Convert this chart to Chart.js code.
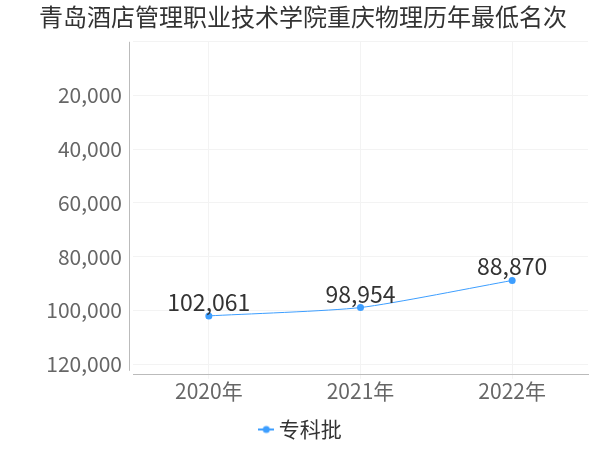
<!DOCTYPE html>
<html>
<head>
<meta charset="utf-8">
<script src="https://cdn.jsdelivr.net/npm/chart.js@4/dist/chart.umd.min.js"></script>
<style>
  html, body { margin: 0; padding: 0; background: #fff; }
  #wrap { width: 600px; height: 450px; }
</style>
</head>
<body>
<div id="wrap"><canvas id="rankChart"></canvas></div>
<script>
// data
const years = ['2020年', '2021年', '2022年'];
const minRank = [102061, 98954, 88870];
const seriesName = '专科批';
const yTicks = [20000, 40000, 60000, 80000, 100000, 120000];

const FONT = '"Noto Sans CJK SC", "Noto Sans", sans-serif';
const BLUE = '#3d9eff';

// legend marker: short line with a dot
const marker = document.createElement('canvas');
marker.width = 16; marker.height = 10;
(function () {
  const c = marker.getContext('2d');
  c.strokeStyle = BLUE; c.lineWidth = 2;
  c.beginPath(); c.moveTo(0, 5); c.lineTo(16, 5); c.stroke();
  c.fillStyle = BLUE;
  c.beginPath(); c.arc(8, 5, 3.5, 0, Math.PI * 2); c.fill();
})();

// value labels above each point
const valueLabels = {
  id: 'valueLabels',
  afterDatasetsDraw(chart) {
    const ctx = chart.ctx;
    const meta = chart.getDatasetMeta(0);
    ctx.save();
    ctx.font = '23px ' + FONT;
    ctx.fillStyle = '#333';
    ctx.textAlign = 'center';
    ctx.textBaseline = 'alphabetic';
    meta.data.forEach((pt, i) => {
      ctx.fillText(minRank[i].toLocaleString('en-US'), pt.x, pt.y - 5);
    });
    ctx.restore();
  }
};

// y axis line sits a few px left of the plot, detached from the x axis
const yAxisLine = {
  id: 'yAxisLine',
  afterDraw(chart) {
    const { ctx, chartArea } = chart;
    const x = chartArea.left - 3.5;
    ctx.save();
    ctx.strokeStyle = '#bbb';
    ctx.lineWidth = 1;
    ctx.beginPath();
    ctx.moveTo(x, chartArea.top);
    ctx.lineTo(x, chartArea.bottom - 4);
    ctx.stroke();
    ctx.restore();
  }
};

new Chart(document.getElementById('rankChart'), {
  type: 'line',
  data: {
    labels: years,
    datasets: [{
      label: seriesName,
      data: minRank,
      borderColor: BLUE,
      backgroundColor: BLUE,
      borderWidth: 1,
      pointRadius: 3.5,
      pointHoverRadius: 3.5,
      pointBackgroundColor: BLUE,
      pointBorderWidth: 0,
      tension: 0.2
    }]
  },
  options: {
    responsive: true,
    maintainAspectRatio: false,
    animation: false,
    layout: { padding: { left: 18, right: 12, top: 0, bottom: 0 } },
    plugins: {
      title: {
        display: true,
        text: '青岛酒店管理职业技术学院重庆物理历年最低名次',
        color: '#333',
        font: { family: FONT, size: 24, weight: 'normal' },
        padding: { top: 2, bottom: 11 }
      },
      legend: {
        position: 'bottom',
        labels: {
          usePointStyle: true,
          boxWidth: 4,
          color: '#333',
          font: { family: FONT, size: 21 },
          padding: 6,
          generateLabels(chart) {
            const items = Chart.defaults.plugins.legend.labels.generateLabels(chart);
            items.forEach(it => { it.pointStyle = marker; });
            return items;
          }
        }
      },
      tooltip: { enabled: false }
    },
    scales: {
      x: {
        offset: true,
        grid: { color: '#f3f3f3', offset: false, tickLength: 4 },
        border: { color: '#bbb' },
        ticks: { color: '#666', font: { family: FONT, size: 21 }, padding: 0 },
        afterFit(axis) { axis.height += 9; }
      },
      y: {
        reverse: true,
        min: 0,
        max: 124000,
        afterBuildTicks(axis) {
          axis.ticks = [0].concat(yTicks).map(v => ({ value: v }));
        },
        afterFit(axis) { axis.width = 115; },
        grid: { color: '#f3f3f3', drawTicks: false },
        border: { display: false },
        ticks: {
          color: '#666',
          font: { family: FONT, size: 21 },
          padding: 11,
          callback: v => (v === 0 ? '' : v.toLocaleString('en-US'))
        }
      }
    }
  },
  plugins: [valueLabels, yAxisLine]
});
</script>
</body>
</html>
